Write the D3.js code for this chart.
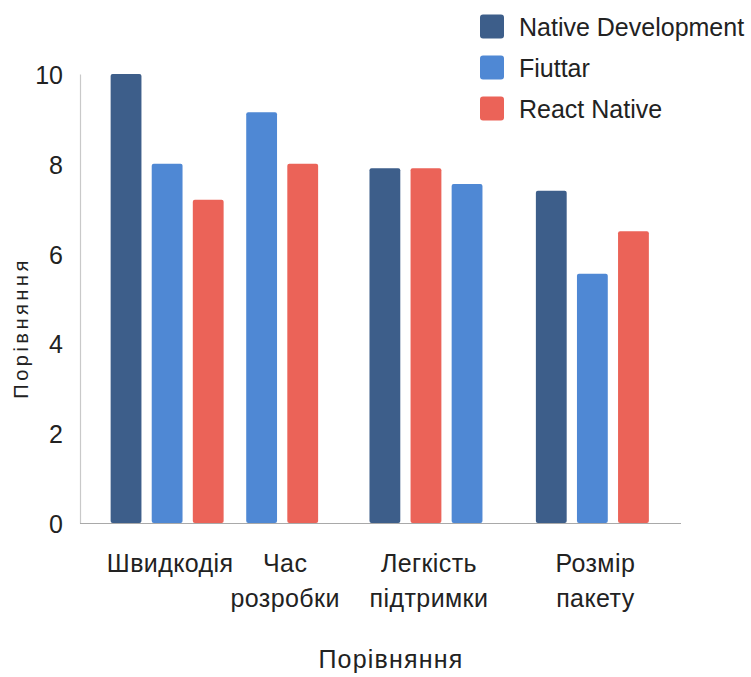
<!DOCTYPE html>
<html>
<head>
<meta charset="utf-8">
<script src="https://cdn.jsdelivr.net/npm/d3@7"></script>
<style>
  html, body { margin: 0; padding: 0; background: #fff; }
  svg { display: block; }
  text { font-family: "Liberation Sans", Arial, sans-serif; fill: #222; }
</style>
</head>
<body>
<svg id="chart" width="751" height="677"></svg>
<script>
// Categories (x axis), two-line labels
const categories = ["Швидкодія", "Час розробки", "Легкість підтримки", "Розмір пакету"];
const categoryLines = [["Швидкодія"], ["Час", "розробки"], ["Легкість", "підтримки"], ["Розмір", "пакету"]];

// Series
const seriesKeys = ["native", "flutter", "react"];
const seriesNames = ["Native Development", "Fiuttar", "React Native"];
const seriesColors = ["#3d5e8a", "#4f88d4", "#eb6358"];

// Values per series, one per category (null = no bar)
const nativeValues = [10, null, 7.9, 7.4];
const flutterValues = [8, 9.15, 7.55, 5.55];
const reactValues = [7.2, 8, 7.9, 6.5];

// Order in which the bars of each category are drawn
const barOrder = [
  ["native", "flutter", "react"],
  ["flutter", "react"],
  ["native", "react", "flutter"],
  ["native", "flutter", "react"]
];

const yTicks = [0, 2, 4, 6, 8, 10];

const valuesByKey = { native: nativeValues, flutter: flutterValues, react: reactValues };
const colorByKey = {};
seriesKeys.forEach((k, i) => colorByKey[k] = seriesColors[i]);

// Extra spacing (in bar slots) inserted before each category
const groupGap = [0, 0.3, 1.0, 1.05];

// Flatten into bars with a slot position
const bars = [];
const groupCenters = [];
let slot = 0;
barOrder.forEach((keys, ci) => {
  slot += groupGap[ci];
  const start = slot;
  keys.forEach(k => {
    const v = valuesByKey[k][ci];
    if (v != null) bars.push({ cat: ci, key: k, value: v, slot: slot });
    slot += 1;
  });
  groupCenters.push((start + slot - 1) / 2);
});
const lastSlot = slot - 1;

const svg = d3.select("#chart");

const axisX = 80, baseY = 523, axisRight = 681;

const x = d3.scaleLinear().domain([-0.5, lastSlot + 0.5]).range([105.5, 654]);
const y = d3.scaleLinear().domain([0, 10]).range([baseY, 74]);
const step = x(1) - x(0);
const barW = step * 0.75;

// Y axis
const yAxis = svg.append("g")
  .attr("transform", `translate(${axisX},0)`)
  .call(d3.axisLeft(y).tickValues(yTicks).tickSize(0).tickSizeOuter(0).tickPadding(17));
yAxis.select(".domain").attr("stroke", "#c9c9c9").attr("stroke-width", 1.2);
yAxis.selectAll(".tick text")
  .style("font-family", '"Liberation Sans", Arial, sans-serif')
  .style("font-size", "25px")
  .attr("fill", "#222")
  .attr("dy", "0.38em");

// Bars
svg.append("g").selectAll("rect")
  .data(bars)
  .join("rect")
  .attr("x", d => x(d.slot) - barW / 2)
  .attr("width", barW)
  .attr("y", d => y(d.value))
  .attr("height", d => y(0) - y(d.value))
  .attr("rx", 2)
  .attr("fill", d => colorByKey[d.key]);

// X axis baseline
svg.append("line")
  .attr("x1", axisX).attr("x2", axisRight)
  .attr("y1", y(0) + 0.5).attr("y2", y(0) + 0.5)
  .attr("stroke", "#a9a9a9").attr("stroke-width", 1.2);

// Category labels
const catG = svg.append("g");
categoryLines.forEach((lines, ci) => {
  const cx = x(groupCenters[ci]) + 3;
  const t = catG.append("text")
    .attr("x", cx)
    .attr("y", 572)
    .attr("text-anchor", "middle")
    .style("font-size", "25px")
    .style("letter-spacing", "0.4px");
  lines.forEach((ln, li) => {
    t.append("tspan")
      .attr("x", cx)
      .attr("dy", li === 0 ? 0 : 35)
      .text(ln);
  });
});

// Axis titles
svg.append("text")
  .attr("x", 391)
  .attr("y", 668)
  .attr("text-anchor", "middle")
  .style("font-size", "25px")
  .style("letter-spacing", "1.2px")
  .text("Порівняння");

svg.append("text")
  .attr("transform", "translate(28,328) rotate(-90)")
  .attr("text-anchor", "middle")
  .style("font-size", "20px")
  .style("letter-spacing", "3.5px")
  .text("Порівняння");

// Legend
const legend = svg.append("g");
seriesNames.forEach((name, i) => {
  const cy = 26.5 + i * 41;
  legend.append("rect")
    .attr("x", 480).attr("y", cy - 12)
    .attr("width", 24).attr("height", 24)
    .attr("rx", 3)
    .attr("fill", seriesColors[i]);
  legend.append("text")
    .attr("x", 519).attr("y", cy)
    .attr("dy", "0.36em")
    .style("font-size", "25px")
    .text(name);
});
</script>
</body>
</html>
